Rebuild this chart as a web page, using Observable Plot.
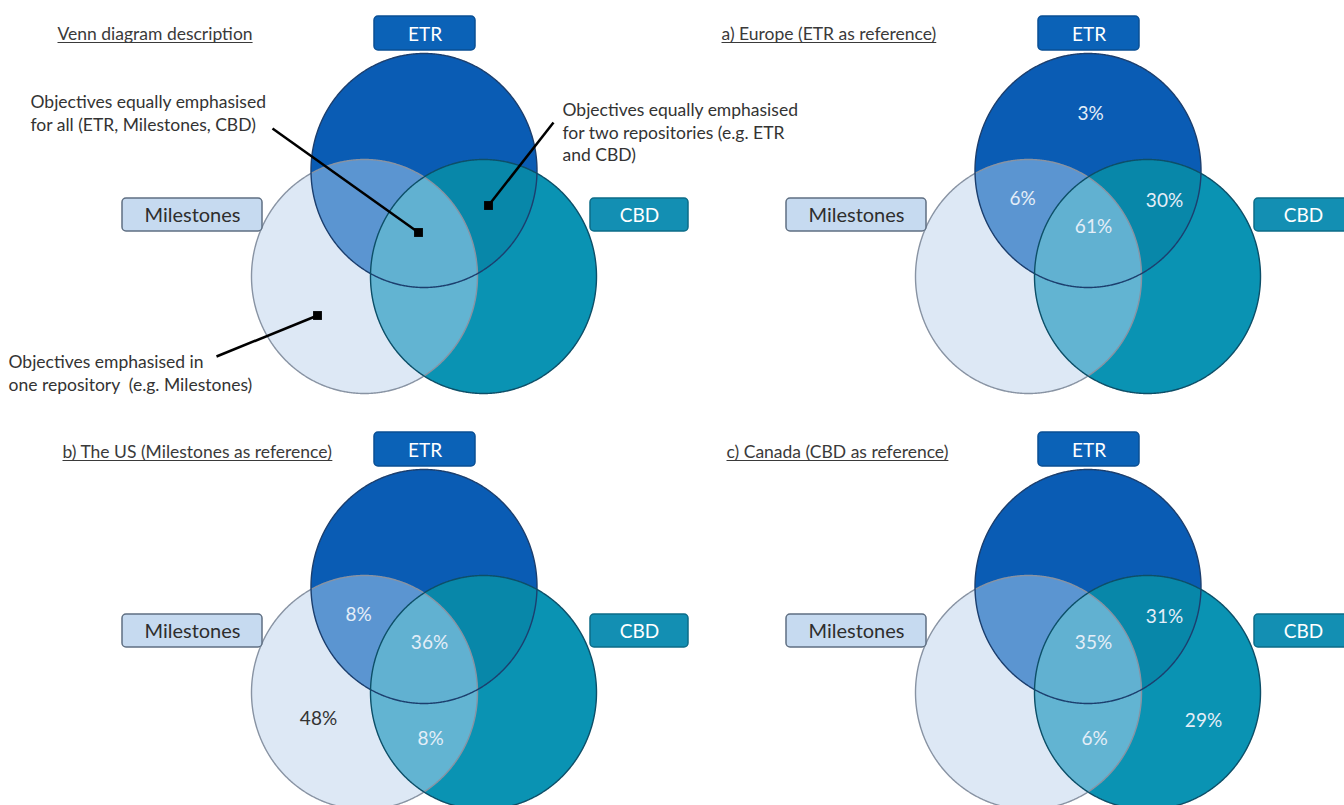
<!DOCTYPE html>
<html>
<head>
<meta charset="utf-8">
<script src="https://cdn.jsdelivr.net/npm/d3@7"></script>
<script src="https://cdn.jsdelivr.net/npm/@observablehq/plot@0.6"></script>
<style>
  body { margin: 0; background: #fff; }
</style>
</head>
<body>
<div id="chart"></div>
<script>
// ---------------- data ----------------
const sets = ["ETR", "Milestones", "CBD"];
const setKeys = ["E", "M", "C"];
const panelTitles = [
  "Venn diagram description",
  "a) Europe (ETR as reference)",
  "b) The US (Milestones as reference)",
  "c) Canada (CBD as reference)"
];
const regionKeys = ["E", "M", "C", "EM", "EC", "MC", "EMC"];
const europeValues = [3, null, null, 6, 30, null, 61];
const usValues     = [null, 48, null, 8, null, 8, 36];
const canadaValues = [null, null, 29, null, 31, 6, 35];
const panelValues = [null, europeValues, usValues, canadaValues];
const descriptionNotes = [
  "Objectives equally emphasised\nfor all (ETR, Milestones, CBD)",
  "Objectives equally emphasised\nfor two repositories (e.g. ETR\nand CBD)",
  "Objectives emphasised in\none repository  (e.g. Milestones)"
];

// ---------------- layout ----------------
const W = 1344, H = 805;
const panelOffsets = [[0, 0], [664, 0], [0, 416], [664, 416]];
const titleX = [57, 57, 62, 62];
const RX = 113, RY = 117;
const geom = { E: {cx: 423.5, cy: 170}, M: {cx: 364, cy: 276}, C: {cx: 483, cy: 276} };
const regionFill = { E: "#0a5cb4", M: "#dde8f5", C: "#0a93b3", EM: "#5b95d1", EC: "#0887a9", MC: "#62b4d2", EMC: "#61b1d1" };
const outline = { E: "#1c3f6e", M: "#8893a3", C: "#0d4f68" };
const boxLayout = {
  E: {x1: 374, x2: 475, y1: 16, y2: 50, fill: "#0b62b7", stroke: "#0a4f94", text: "#ffffff", size: 19},
  M: {x1: 122, x2: 262, y1: 198, y2: 231, fill: "#c6daf0", stroke: "#5f6f82", text: "#2e2e2e", size: 20},
  C: {x1: 590, x2: 688, y1: 198, y2: 231, fill: "#138fb3", stroke: "#0c6c88", text: "#ffffff", size: 19}
};
const labelAnchor = { E: [426, 113], EM: [358, 198], EC: [500, 200], EMC: [429, 226], M: [318, 302], MC: [430, 322], C: [539, 304] };
const noteLayout = [
  {x: 30, y: 92, x1: 272, y1: 128, x2: 418, y2: 232},
  {x: 562, y: 100, x1: 553, y1: 122, x2: 488, y2: 205},
  {x: 8, y: 352, x1: 216, y1: 356, x2: 317, y2: 315}
];
const titleFont = 17.5, noteFont = 17.5;

// ---------------- geometry helpers ----------------
function ellipsePts(k, dx, dy, n = 720) {
  const e = geom[k], pts = [];
  for (let i = 0; i < n; i++) {
    const t = 2 * Math.PI * i / n;
    pts.push([dx + e.cx + RX * Math.cos(t), dy + e.cy + RY * Math.sin(t)]);
  }
  return pts;
}
function insideE(p, k, dx, dy) {
  const e = geom[k];
  const u = (p[0] - dx - e.cx) / RX, v = (p[1] - dy - e.cy) / RY;
  return u * u + v * v <= 1 + 1e-9;
}
function regionPts(key, dx, dy) {
  const keys = key.split("");
  if (keys.length === 1) return ellipsePts(key, dx, dy);
  const pts = [];
  for (const k of keys)
    for (const p of ellipsePts(k, dx, dy))
      if (keys.every(o => o === k || insideE(p, o, dx, dy))) pts.push(p);
  const cx = d3.mean(pts, p => p[0]), cy = d3.mean(pts, p => p[1]);
  pts.sort((a, b) => Math.atan2(a[1] - cy, a[0] - cx) - Math.atan2(b[1] - cy, b[0] - cx));
  return pts;
}
function layerData(key) {
  const out = [];
  panelOffsets.forEach(([dx, dy], i) => {
    regionPts(key, dx, dy).forEach(([x, y]) => out.push({panel: i, x, y}));
  });
  return out;
}
const measureCtx = document.createElement("canvas").getContext("2d");
function textWidth(t, size) {
  measureCtx.font = `${size}px Lato`;
  return measureCtx.measureText(t).width;
}

// ---------------- marks ----------------
const fillOrder = ["M", "C", "E", "EM", "EC", "MC", "EMC"];
const fillMarks = fillOrder.map(k =>
  Plot.line(layerData(k), {x: "x", y: "y", z: "panel", fill: regionFill[k], stroke: "none", curve: "linear-closed"})
);
const outlineMarks = ["M", "E", "C"].map(k =>
  Plot.line(layerData(k), {x: "x", y: "y", z: "panel", fill: "none", stroke: outline[k], strokeWidth: 1.4, curve: "linear-closed"})
);

const boxes = [];
panelOffsets.forEach(([dx, dy]) => {
  setKeys.forEach((k, j) => {
    const b = boxLayout[k];
    boxes.push({name: sets[j], key: k, x1: b.x1 + dx, x2: b.x2 + dx, y1: b.y1 + dy, y2: b.y2 + dy});
  });
});
const boxMarks = setKeys.map(k => {
  const b = boxLayout[k];
  const d = boxes.filter(o => o.key === k);
  return [
    Plot.rect(d, {x1: "x1", x2: "x2", y1: "y1", y2: "y2", fill: b.fill, stroke: b.stroke, strokeWidth: 1.5, rx: 4}),
    Plot.text(d, {x: o => (o.x1 + o.x2) / 2, y: o => (o.y1 + o.y2) / 2 + 1, text: "name", fill: b.text,
      fontSize: b.size, fontFamily: "Lato", textAnchor: "middle"})
  ];
});

const pctLabels = [];
panelValues.forEach((vals, i) => {
  if (!vals) return;
  const [dx, dy] = panelOffsets[i];
  regionKeys.forEach((k, j) => {
    if (vals[j] == null) return;
    pctLabels.push({region: k, value: vals[j], x: labelAnchor[k][0] + dx, y: labelAnchor[k][1] + dy});
  });
});

const titles = panelTitles.map((t, i) => {
  const x = titleX[i] + panelOffsets[i][0], y = 34 + panelOffsets[i][1] + (i >= 2 ? 2 : 0);
  return {text: t, x, y, x2: x + textWidth(t, titleFont)};
});

const notes = descriptionNotes.map((t, i) => ({text: t, ...noteLayout[i]}));

const chart = Plot.plot({
  width: W, height: H, margin: 0,
  x: {domain: [0, W], range: [0, W], axis: null},
  y: {domain: [0, H], range: [0, H], axis: null},
  style: {background: "#ffffff"},
  marks: [
    ...fillMarks,
    ...outlineMarks,
    ...boxMarks.flat(),
    Plot.text(pctLabels, {x: "x", y: "y", text: d => d.value + "%",
      fill: d => d.region === "M" ? "#333333" : "#e4eef8",
      fontSize: 19, fontFamily: "Lato", textAnchor: "middle"}),
    Plot.text(titles, {x: "x", y: "y", text: "text", textAnchor: "start", fontSize: titleFont, fontFamily: "Lato",
      fill: "#3a3a3a"}),
    Plot.link(titles, {x1: "x", x2: "x2", y1: d => d.y + 8, y2: d => d.y + 8, stroke: "#3a3a3a", strokeWidth: 1.1}),
    Plot.link(notes, {x1: "x1", y1: "y1", x2: "x2", y2: "y2", stroke: "#000000", strokeWidth: 2.5}),
    Plot.dot(notes, {x: "x2", y: "y2", symbol: "square", r: 5, fill: "#000000", stroke: "none"}),
    Plot.text(notes, {x: "x", y: "y", text: "text", textAnchor: "start", lineAnchor: "top", lineHeight: 1.28,
      fontSize: noteFont, fontFamily: "Lato", fill: "#333333"})
  ]
});
document.getElementById("chart").appendChild(chart);
</script>
</body>
</html>
